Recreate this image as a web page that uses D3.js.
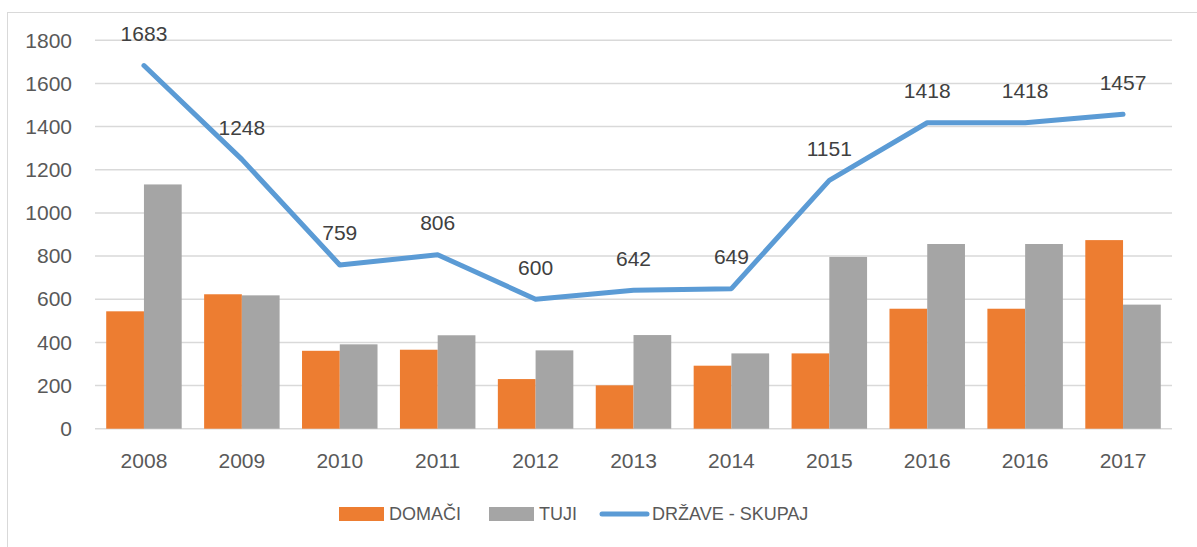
<!DOCTYPE html>
<html>
<head>
<meta charset="utf-8">
<script src="https://cdn.jsdelivr.net/npm/d3@7"></script>
<style>
  body { margin: 0; background: #fff; }
  svg { display: block; font-family: "Liberation Sans", Arial, sans-serif; }
</style>
</head>
<body>
<div id="chart"></div>
<script>
// Data
const years = ['2008', '2009', '2010', '2011', '2012', '2013', '2014', '2015', '2016', '2016', '2017'];
const domaci = [544, 623, 361, 366, 230, 201, 292, 349, 556, 556, 874];
const tuji = [1132, 618, 391, 433, 363, 434, 349, 796, 856, 856, 575];
const skupaj = [1683, 1248, 759, 806, 600, 642, 649, 1151, 1418, 1418, 1457];
const yTicks = [0, 200, 400, 600, 800, 1000, 1200, 1400, 1600, 1800];

const seriesNames = ['DOMAČI', 'TUJI', 'DRŽAVE - SKUPAJ'];
const colors = { domaci: '#ED7D31', tuji: '#A5A5A5', line: '#5B9BD5' };

const svgWidth = 1197, svgHeight = 547;
const margin = { top: 40.3, right: 25, bottom: 118.3, left: 95 };
const chartWidth = svgWidth - margin.left - margin.right;
const chartHeight = svgHeight - margin.top - margin.bottom;

const svg = d3.select('#chart')
    .append('svg')
    .attr('width', svgWidth)
    .attr('height', svgHeight);

// Outer chart border
svg.append('rect')
    .attr('x', 7.5)
    .attr('y', 12.5)
    .attr('width', svgWidth + 10)
    .attr('height', svgHeight + 10)
    .attr('fill', 'none')
    .attr('stroke', '#D9D9D9')
    .attr('stroke-width', 1);

const chart = svg.append('g')
    .attr('transform', `translate(${margin.left}, ${margin.top})`);

// Scales
const idx = years.map((d, i) => i);
const xScale = d3.scaleBand()
    .domain(idx)
    .range([0, chartWidth])
    .paddingInner(0.229)
    .paddingOuter(0.1145);

const yScale = d3.scaleLinear()
    .domain([0, 1800])
    .range([chartHeight, 0]);

const barWidth = xScale.bandwidth() / 2;

// Gridlines
chart.append('g')
    .selectAll('line')
    .data(yTicks)
    .enter()
    .append('line')
    .attr('x1', 0)
    .attr('x2', chartWidth)
    .attr('y1', d => yScale(d))
    .attr('y2', d => yScale(d))
    .attr('stroke', '#D9D9D9')
    .attr('stroke-width', 1.5);

// Y axis labels
const yAxis = d3.axisLeft(yScale)
    .tickValues(yTicks)
    .tickFormat(d3.format('d'))
    .tickSize(0)
    .tickPadding(23);

chart.append('g')
    .call(yAxis)
    .call(g => g.select('.domain').remove())
    .selectAll('text')
    .attr('fill', '#595959')
    .style('font-size', '21px');

// X axis labels
const xAxis = d3.axisBottom(xScale)
    .tickFormat(i => years[i])
    .tickSize(0)
    .tickPadding(24);

chart.append('g')
    .attr('transform', `translate(0, ${chartHeight})`)
    .call(xAxis)
    .call(g => g.select('.domain').remove())
    .selectAll('text')
    .attr('fill', '#595959')
    .style('font-size', '21px');

// Domači bars
chart.selectAll('.bar-domaci')
    .data(idx)
    .enter()
    .append('rect')
    .attr('class', 'bar-domaci')
    .attr('x', i => xScale(i))
    .attr('y', i => yScale(domaci[i]))
    .attr('width', barWidth)
    .attr('height', i => chartHeight - yScale(domaci[i]))
    .style('fill', colors.domaci);

// Tuji bars
chart.selectAll('.bar-tuji')
    .data(idx)
    .enter()
    .append('rect')
    .attr('class', 'bar-tuji')
    .attr('x', i => xScale(i) + barWidth)
    .attr('y', i => yScale(tuji[i]))
    .attr('width', barWidth)
    .attr('height', i => chartHeight - yScale(tuji[i]))
    .style('fill', colors.tuji);

// Total line
const line = d3.line()
    .x(i => xScale(i) + xScale.bandwidth() / 2)
    .y(i => yScale(skupaj[i]));

chart.append('path')
    .datum(idx)
    .attr('d', line)
    .attr('fill', 'none')
    .attr('stroke', colors.line)
    .attr('stroke-width', 5)
    .attr('stroke-linejoin', 'round')
    .attr('stroke-linecap', 'round');

// Data labels
chart.selectAll('.label')
    .data(idx)
    .enter()
    .append('text')
    .attr('class', 'label')
    .attr('x', i => xScale(i) + xScale.bandwidth() / 2)
    .attr('y', i => yScale(skupaj[i]) - 32)
    .attr('dy', '0.36em')
    .attr('text-anchor', 'middle')
    .attr('fill', '#404040')
    .style('font-size', '21px')
    .text(i => skupaj[i]);

// Legend
const legend = svg.append('g')
    .attr('transform', 'translate(339, 514)');

legend.append('rect')
    .attr('x', 0).attr('y', -7)
    .attr('width', 45).attr('height', 14)
    .style('fill', colors.domaci);
legend.append('text')
    .attr('x', 50).attr('y', 0).attr('dy', '0.36em')
    .attr('fill', '#595959').style('font-size', '18px')
    .text(seriesNames[0]);

legend.append('rect')
    .attr('x', 150).attr('y', -7)
    .attr('width', 45).attr('height', 14)
    .style('fill', colors.tuji);
legend.append('text')
    .attr('x', 200).attr('y', 0).attr('dy', '0.36em')
    .attr('fill', '#595959').style('font-size', '18px')
    .text(seriesNames[1]);

legend.append('line')
    .attr('x1', 263).attr('x2', 308)
    .attr('y1', 0).attr('y2', 0)
    .attr('stroke', colors.line)
    .attr('stroke-width', 5)
    .attr('stroke-linecap', 'round');
legend.append('text')
    .attr('x', 313).attr('y', 0).attr('dy', '0.36em')
    .attr('fill', '#595959').style('font-size', '18px')
    .text(seriesNames[2]);
</script>
</body>
</html>
